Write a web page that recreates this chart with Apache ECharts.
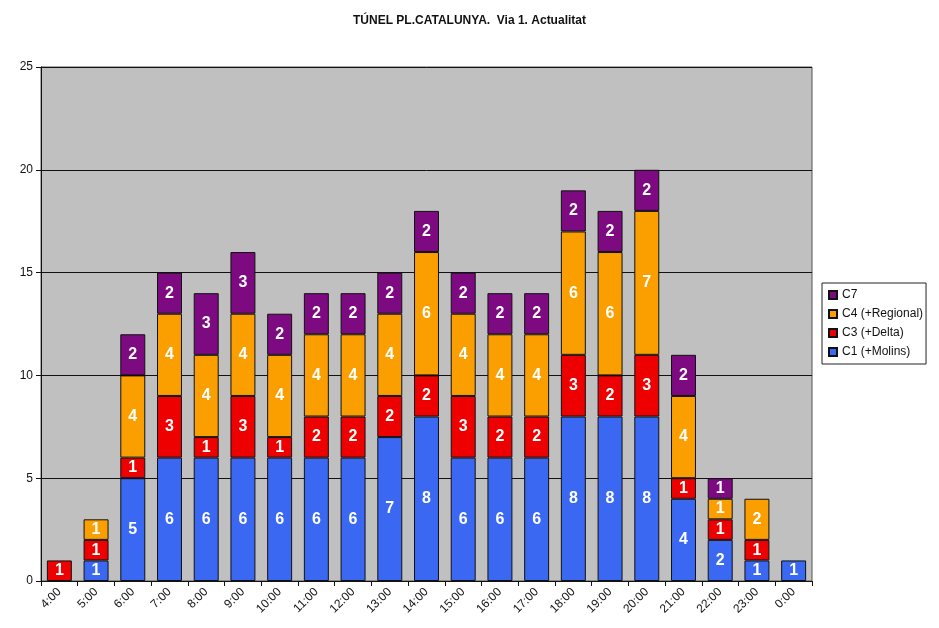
<!DOCTYPE html>
<html>
<head>
<meta charset="utf-8">
<script src="https://cdn.jsdelivr.net/npm/echarts@6/dist/echarts.min.js"></script>
<style>
html,body{margin:0;padding:0;background:#fff;}
#chart{width:939px;height:628px;}
</style>
</head>
<body>
<div id="chart"></div>
<script>
const hours = ['4:00','5:00','6:00','7:00','8:00','9:00','10:00','11:00','12:00','13:00','14:00','15:00','16:00','17:00','18:00','19:00','20:00','21:00','22:00','23:00','0:00'];
const c1 = [0,1,5,6,6,6,6,6,6,7,8,6,6,6,8,8,8,4,2,1,1];
const c3 = [1,1,1,3,1,3,1,2,2,2,2,3,2,2,3,2,3,1,1,1,0];
const c4 = [0,1,4,4,4,4,4,4,4,4,6,4,4,4,6,6,7,4,1,2,0];
const c7 = [0,0,2,2,3,3,2,2,2,2,2,2,2,2,2,2,2,2,1,0,0];
const yTicks = [0,5,10,15,20,25];

const names = ['C1 (+Molins)','C3 (+Delta)','C4 (+Regional)','C7'];
const colors = ['#3a68f2','#ee0000','#fb9f00','#7d0a80'];
const values = [c1,c3,c4,c7];

const font = 'Liberation Sans, Arial, sans-serif';

const series = names.map((n,i)=>({
  name:n,
  type:'bar',
  stack:'total',
  barWidth:'68%',
  data:values[i].map(v=>v===0?null:v),
  itemStyle:{color:colors[i],borderColor:'#111',borderWidth:1},
  label:{show:true,position:'inside',color:'#fff',fontWeight:'bold',fontSize:16,fontFamily:font,
    formatter:p=>p.value?String(p.value):''}
}));

const chart = echarts.init(document.getElementById('chart'));
chart.setOption({
  animation:false,
  backgroundColor:'#fff',
  title:{text:'TÚNEL PL.CATALUNYA.  Via 1. Actualitat',left:'center',top:10,
    textStyle:{fontSize:12,fontWeight:'bold',fontFamily:font,color:'#111'}},
  legend:{
    data:['C7','C4 (+Regional)','C3 (+Delta)','C1 (+Molins)'],
    orient:'vertical',left:822,top:283,
    itemWidth:8,itemHeight:8,itemGap:7,
    icon:'rect',
    borderColor:'#222',borderWidth:1,padding:[6,3,6,6],
    textStyle:{fontSize:12,fontFamily:font,color:'#111'}
  },
  grid:{left:41,right:127,top:67,bottom:47,show:true,backgroundColor:'#c0c0c0',borderColor:'#555',borderWidth:1},
  xAxis:{
    type:'category',data:hours,
    axisLine:{lineStyle:{color:'#111'}},
    axisTick:{show:true,alignWithLabel:false,lineStyle:{color:'#111'}},
    axisLabel:{rotate:45,fontSize:12,fontFamily:font,color:'#111',margin:9,interval:0}
  },
  yAxis:{
    type:'value',min:yTicks[0],max:yTicks[yTicks.length-1],interval:5,
    axisLine:{show:true,lineStyle:{color:'#111'}},
    axisTick:{show:true,lineStyle:{color:'#111'}},
    axisLabel:{fontSize:12,fontFamily:font,color:'#111',margin:8},
    splitLine:{lineStyle:{color:'#111',width:1}}
  },
  series:series
});
</script>
</body>
</html>
